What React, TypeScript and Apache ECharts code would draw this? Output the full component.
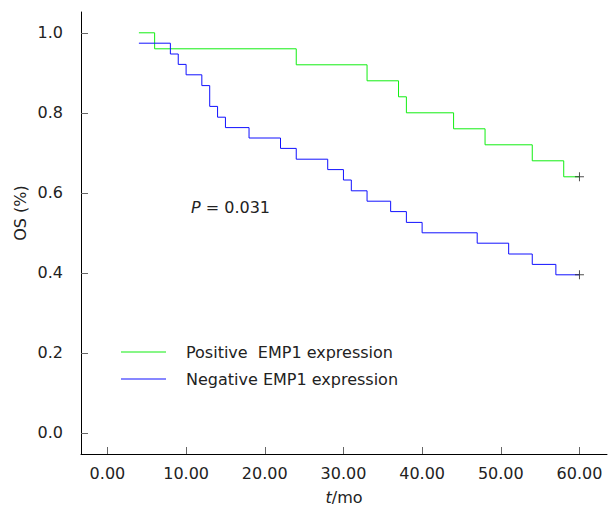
import React, { useEffect, useRef } from "react";
import * as echarts from "echarts";

const FONT = "DejaVu Sans";

const positiveTimes = [4, 6, 24, 33, 37, 38, 44, 48, 54, 58, 60];
const positiveSurv = [1.0, 0.96, 0.92, 0.88, 0.84, 0.8, 0.76, 0.72, 0.68, 0.64, 0.64];

const negativeTimes = [4, 8, 9, 10, 12, 13, 14, 15, 18, 22, 24, 28, 30, 31, 33, 36, 38, 40, 47, 51, 54, 57, 60];
const negativeSurv = [
  0.974, 0.947, 0.921, 0.895, 0.868, 0.816, 0.789, 0.763, 0.737, 0.711, 0.684, 0.658,
  0.632, 0.605, 0.579, 0.553, 0.526, 0.5, 0.474, 0.447, 0.421, 0.395, 0.395,
];

const censorTimes = [60, 60];
const censorSurv = [0.64, 0.395];

const xTicks = [0, 10, 20, 30, 40, 50, 60];
const yTicks = [0, 0.2, 0.4, 0.6, 0.8, 1.0];

const seriesNames = ["Positive  EMP1 expression", "Negative EMP1 expression"];

const zip = (a: number[], b: number[]) => a.map((v, i) => [v, b[i]]);

export default function App() {
  const ref = useRef<HTMLDivElement>(null);
  useEffect(() => {
    if (!ref.current) return;
    const chart = echarts.init(ref.current, null, { renderer: "svg" });
    chart.setOption({
      animation: false,
      backgroundColor: "#ffffff",
      textStyle: { fontFamily: FONT },
      grid: { left: 81, right: 2, top: 12, bottom: 54, outerBoundsMode: "none" },
      legend: {
        data: seriesNames,
        orient: "vertical",
        left: 121,
        top: 344,
        padding: 0,
        icon: "rect",
        itemWidth: 45,
        itemHeight: 1,
        itemGap: 11,
        textStyle: { fontFamily: FONT, fontSize: 16, color: "#222", padding: [0, 0, 0, 15] },
      },
      xAxis: {
        type: "value",
        min: -3.36,
        max: 63.5,
        name: "{i|t}/mo",
        nameLocation: "middle",
        nameGap: 35,
        nameTextStyle: {
          fontFamily: FONT,
          fontSize: 16,
          color: "#222",
          rich: { i: { fontStyle: "italic", fontFamily: FONT, fontSize: 16, color: "#222" } },
        },
        splitLine: { show: false },
        axisLine: { onZero: false, lineStyle: { color: "#000", width: 1 } },
        axisTick: { inside: true, length: 7, lineStyle: { color: "#666" }, customValues: xTicks },
        axisLabel: {
          customValues: xTicks,
          margin: 11,
          fontFamily: FONT,
          fontSize: 16,
          color: "#222",
          formatter: (v: number) => v.toFixed(2),
        },
      },
      yAxis: {
        type: "value",
        min: -0.053,
        max: 1.052,
        splitLine: { show: false },
        axisLine: { show: true, onZero: false, lineStyle: { color: "#000", width: 1 } },
        axisTick: { show: true, inside: true, length: 7, lineStyle: { color: "#666" }, customValues: yTicks },
        axisLabel: {
          customValues: yTicks,
          margin: 18,
          fontFamily: FONT,
          fontSize: 16,
          color: "#222",
          formatter: (v: number) => v.toFixed(1),
        },
      },
      series: [
        {
          name: seriesNames[0],
          type: "line",
          step: "end",
          symbol: "none",
          data: zip(positiveTimes, positiveSurv),
          lineStyle: { color: "#11ee11", width: 1 },
          itemStyle: { color: "#11ee11" },
        },
        {
          name: seriesNames[1],
          type: "line",
          step: "end",
          symbol: "none",
          data: zip(negativeTimes, negativeSurv),
          lineStyle: { color: "#1010ff", width: 1 },
          itemStyle: { color: "#1010ff" },
        },
        {
          name: "censored",
          type: "scatter",
          data: zip(censorTimes, censorSurv),
          symbol: "path://M4,0 H5 V4 H9 V5 H5 V9 H4 V5 H0 V4 H4 Z",
          symbolSize: 9,
          itemStyle: { color: "#222" },
          z: 5,
        },
      ],
      graphic: [
        {
          type: "text",
          x: 20,
          y: 213,
          rotation: Math.PI / 2,
          style: {
            text: "OS (%)",
            fontFamily: FONT,
            fontSize: 16,
            fill: "#222",
            align: "center",
            verticalAlign: "middle",
          },
        },
        {
          type: "text",
          x: 191,
          y: 207,
          style: {
            text: "{i|P} = 0.031",
            fontFamily: FONT,
            fontSize: 16,
            fill: "#222",
            verticalAlign: "middle",
            rich: { i: { fontStyle: "italic", fontFamily: FONT, fontSize: 16, fill: "#222" } },
          },
        },
      ],
    });
    return () => chart.dispose();
  }, []);
  return <div ref={ref} style={{ position: "fixed", left: 0, top: 0, width: 609, height: 508 }} />;
}
